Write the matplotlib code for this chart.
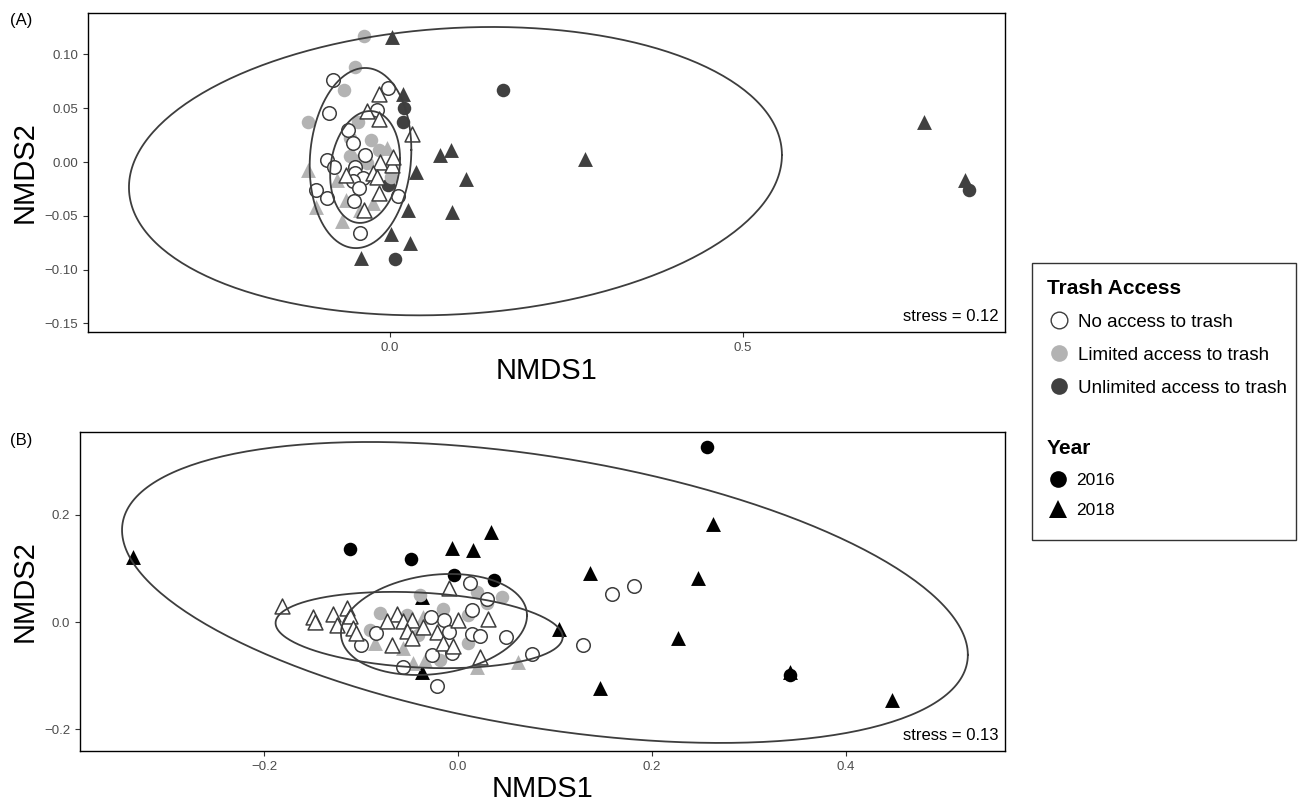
import numpy as np
import matplotlib.pyplot as plt
from matplotlib.lines import Line2D
from matplotlib.patches import Rectangle

plt.rcParams['font.family'] = ['Liberation Sans', 'DejaVu Sans']

# ---- Panel A (NMDS scores) ----
a_none16_x = [-0.081, -0.003, -0.086, -0.018, -0.059, -0.052, -0.035, -0.089, -0.079, -0.050,
              -0.050, -0.038, -0.052, -0.044, -0.105, -0.089, 0.011, -0.051, -0.042]
a_none16_y = [0.076, 0.069, 0.046, 0.048, 0.030, 0.018, 0.0065, 0.002, -0.005, -0.005,
              -0.010, -0.015, -0.018, -0.024, -0.026, -0.033, -0.032, -0.036, -0.066]
a_none18_x = [-0.016, -0.033, -0.016, 0.031, -0.014, 0.003, 0.004, -0.062, -0.025, -0.018, -0.016, -0.037]
a_none18_y = [0.063, 0.047, 0.040, 0.026, 0.000, -0.003, 0.0046, -0.012, -0.010, -0.014, -0.029, -0.045]
a_lim16_x = [-0.037, -0.050, -0.065, -0.116, -0.045, -0.057, -0.027, -0.057, -0.016, -0.033, 0.001, -0.042]
a_lim16_y = [0.117, 0.088, 0.067, 0.037, 0.037, 0.022, 0.020, 0.0056, 0.011, -0.001, -0.014, 0.002]
a_lim18_x = [-0.116, -0.105, -0.068, -0.062, -0.025, -0.042, -0.004, -0.075]
a_lim18_y = [-0.0074, -0.042, -0.055, -0.035, -0.038, -0.045, 0.013, -0.017]
a_unl16_x = [0.020, 0.018, -0.003, 0.007, 0.160, 0.820]
a_unl16_y = [0.050, 0.037, -0.021, -0.090, 0.067, -0.026]
a_unl18_x = [0.003, 0.018, 0.037, 0.071, 0.086, 0.108, 0.088, 0.025, 0.001, 0.028, -0.041, 0.276, 0.756, 0.814]
a_unl18_y = [0.116, 0.063, -0.009, 0.0065, 0.011, -0.016, -0.046, -0.045, -0.067, -0.075, -0.089, 0.003, 0.037, -0.017]
# ellipses: centre x, centre y, half width, half height, y offset at rightmost point
a_ellipses = [(0.0925, -0.0085, 0.4625, 0.134, 0.015),
              (-0.042, 0.0037, 0.072, 0.0837, 0.0076),
              (-0.0355, -0.0046, 0.0495, 0.052, 0.0076)]

# ---- Panel B ----
b_none16_x = [0.159, 0.182, 0.129, 0.076, 0.050, 0.030, 0.012, 0.015, -0.014, -0.028, -0.084, -0.100,
              -0.009, 0.015, 0.023, -0.006, -0.027, -0.057, -0.022]
b_none16_y = [0.052, 0.067, -0.043, -0.059, -0.028, 0.043, 0.073, 0.022, 0.004, 0.009, -0.020, -0.043,
              -0.018, -0.022, -0.026, -0.058, -0.061, -0.083, -0.119]
b_none18_x = [-0.181, -0.149, -0.147, -0.129, -0.114, -0.111, -0.125, -0.108, -0.105, -0.063, -0.073, -0.057,
              -0.047, -0.053, -0.036, -0.022, -0.068, -0.015, -0.005, 0.000, 0.031, -0.009, 0.023, -0.047]
b_none18_y = [0.030, 0.009, 0.000, 0.015, 0.026, 0.011, -0.006, -0.011, -0.020, 0.015, 0.002, 0.002,
              0.004, -0.017, -0.009, -0.018, -0.043, -0.039, -0.045, 0.004, 0.006, 0.063, -0.065, -0.030]
b_lim16_x = [-0.039, 0.020, 0.045, -0.080, -0.052, -0.015, -0.091, 0.010, 0.010, -0.019, 0.030, -0.041]
b_lim16_y = [0.050, 0.056, 0.046, 0.017, 0.013, 0.024, -0.015, 0.013, -0.039, -0.071, 0.035, -0.024]
b_lim18_x = [-0.086, -0.057, -0.046, -0.034, 0.020, 0.062, -0.036]
b_lim18_y = [-0.039, -0.048, -0.076, -0.071, -0.084, -0.074, 0.009]
b_unl16_x = [0.257, -0.111, -0.048, -0.004, 0.037, 0.342]
b_unl16_y = [0.326, 0.136, 0.117, 0.087, 0.078, -0.099]
b_unl18_x = [-0.335, -0.006, 0.016, 0.034, 0.136, 0.263, 0.248, 0.227, 0.146, 0.104, 0.342, 0.448, -0.037, -0.037]
b_unl18_y = [0.121, 0.138, 0.134, 0.167, 0.091, 0.182, 0.082, -0.030, -0.123, -0.013, -0.093, -0.145, 0.047, -0.093]
b_ellipses = [(0.0897, 0.055, 0.436, 0.28, -0.116),
              (-0.040, -0.0149, 0.148, 0.071, -0.013),
              (-0.0247, -0.0046, 0.0959, 0.094, 0.0167)]

access_labels = ['No access to trash', 'Limited access to trash', 'Unlimited access to trash']
year_labels = ['2016', '2018']

EDGE = '#3d3d3d'
GREY = '#b3b3b3'


def draw_ellipse(ax, cx, cy, w, h, dy):
    t = np.linspace(0, 2 * np.pi, 300)
    ax.plot(cx + w * np.cos(t), cy + dy * np.cos(t) + np.sqrt(h ** 2 - dy ** 2) * np.sin(t),
            color=EDGE, lw=1.3, zorder=5)


def panel(ax, d, dark, ellipses, stress):
    cs, ts = 95, 115
    ax.scatter(d['unl16'][0], d['unl16'][1], s=cs, marker='o', color=dark, lw=0, zorder=2)
    ax.scatter(d['unl18'][0], d['unl18'][1], s=ts, marker='^', color=dark, lw=0, zorder=2)
    ax.scatter(d['lim16'][0], d['lim16'][1], s=cs, marker='o', color=GREY, lw=0, zorder=3)
    ax.scatter(d['lim18'][0], d['lim18'][1], s=ts, marker='^', color=GREY, lw=0, zorder=3)
    ax.scatter(d['none16'][0], d['none16'][1], s=cs, marker='o', facecolor='white', edgecolor=EDGE, lw=1.1, zorder=4)
    ax.scatter(d['none18'][0], d['none18'][1], s=ts, marker='^', facecolor='white', edgecolor=EDGE, lw=1.1, zorder=4)
    for e in ellipses:
        draw_ellipse(ax, *e)
    ax.text(0.993, 0.025, 'stress = ' + stress, transform=ax.transAxes, ha='right', va='bottom', fontsize=12)
    ax.set_xlabel('NMDS1', fontsize=21, labelpad=2)
    ax.set_ylabel('NMDS2', fontsize=21, labelpad=4)
    ax.tick_params(direction='out', length=3.5, width=0.8, color='#333333', labelcolor='#4d4d4d', labelsize=9.5)
    for sp in ax.spines.values():
        sp.set_linewidth(1.0)


fig = plt.figure(figsize=(13.04, 8.02), dpi=100)
axA = fig.add_axes([0.0675, 0.586, 0.7032, 0.3978])
axB = fig.add_axes([0.0613, 0.0636, 0.7094, 0.3977])

dA = {'none16': (a_none16_x, a_none16_y), 'none18': (a_none18_x, a_none18_y),
      'lim16': (a_lim16_x, a_lim16_y), 'lim18': (a_lim18_x, a_lim18_y),
      'unl16': (a_unl16_x, a_unl16_y), 'unl18': (a_unl18_x, a_unl18_y)}
dB = {'none16': (b_none16_x, b_none16_y), 'none18': (b_none18_x, b_none18_y),
      'lim16': (b_lim16_x, b_lim16_y), 'lim18': (b_lim18_x, b_lim18_y),
      'unl16': (b_unl16_x, b_unl16_y), 'unl18': (b_unl18_x, b_unl18_y)}

panel(axA, dA, '#404040', a_ellipses, '0.12')
axA.set_xlim(-0.428, 0.871)
axA.set_ylim(-0.158, 0.1385)
axA.set_xticks([0.0, 0.5])
axA.set_xticklabels(['0.0', '0.5'])
axA.set_yticks([-0.15, -0.10, -0.05, 0.00, 0.05, 0.10])
axA.set_yticklabels(['\u22120.15', '\u22120.10', '\u22120.05', '0.00', '0.05', '0.10'])

panel(axB, dB, 'black', b_ellipses, '0.13')
axB.set_xlim(-0.3897, 0.564)
axB.set_ylim(-0.240, 0.3535)
axB.set_xticks([-0.2, 0.0, 0.2, 0.4])
axB.set_xticklabels(['\u22120.2', '0.0', '0.2', '0.4'])
axB.set_yticks([-0.2, 0.0, 0.2])
axB.set_yticklabels(['\u22120.2', '0.0', '0.2'])

fig.text(0.008, 0.975, '(A)', fontsize=12, va='center')
fig.text(0.008, 0.451, '(B)', fontsize=12, va='center')

# legend box
fig.patches.append(Rectangle((0.7915, 0.327), 0.2025, 0.345, transform=fig.transFigure,
                             fill=False, edgecolor='#333333', lw=1.0))
h_acc = [Line2D([], [], ls='', marker='o', markersize=12, markerfacecolor='white', markeredgecolor=EDGE, markeredgewidth=1.0),
         Line2D([], [], ls='', marker='o', markersize=12, markerfacecolor=GREY, markeredgewidth=0),
         Line2D([], [], ls='', marker='o', markersize=12, markerfacecolor='#404040', markeredgewidth=0)]
leg1 = fig.legend(h_acc, access_labels, loc='upper left', bbox_to_anchor=(0.797, 0.662), frameon=False,
                  title='Trash Access', title_fontproperties={'size': 15, 'weight': 'bold'}, alignment='left',
                  fontsize=13.5, handlelength=1.3, handletextpad=0.35, labelspacing=0.85, borderaxespad=0)
h_year = [Line2D([], [], ls='', marker='o', markersize=12, color='black', markeredgewidth=0),
          Line2D([], [], ls='', marker='^', markersize=13, color='black', markeredgewidth=0)]
leg2 = fig.legend(h_year, year_labels, loc='upper left', bbox_to_anchor=(0.797, 0.461), frameon=False,
                  title='Year', title_fontproperties={'size': 15, 'weight': 'bold'}, alignment='left',
                  fontsize=12.5, handlelength=1.3, handletextpad=0.4, labelspacing=0.85, borderaxespad=0)

fig.savefig('out.png', dpi=100)
